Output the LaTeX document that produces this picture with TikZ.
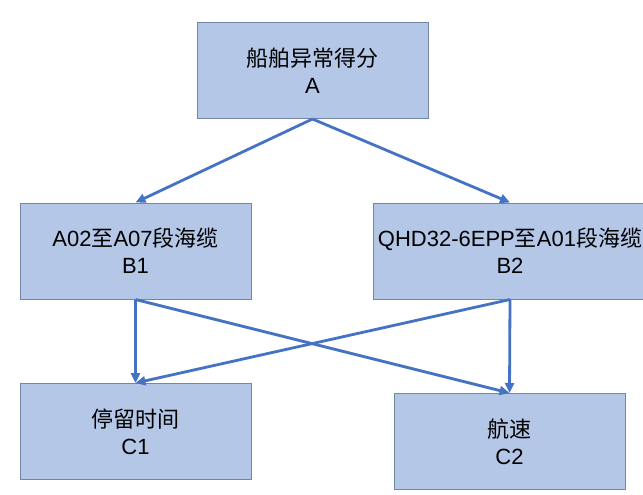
\documentclass[tikz,border=0pt]{standalone}
\usepackage{fontspec}
\setmainfont{Liberation Sans}
\newfontfamily\cjk{Noto Sans CJK SC}
\usetikzlibrary{arrows.meta}
\definecolor{boxfill}{HTML}{B4C7E7}
\definecolor{boxline}{HTML}{7486A8}
\definecolor{arrowc}{HTML}{4472C4}
\begin{document}
\begin{tikzpicture}[x=1pt,y=-1pt,
  box/.style={draw=boxline,line width=1pt,fill=boxfill,minimum width=#1,minimum height=96pt,
    align=center,inner sep=0pt,font=\fontsize{22}{27}\selectfont,text=black},
  box/.default=231pt,
  arr/.style={draw=arrowc,line width=2.8pt,-{Triangle[length=10pt,width=9pt]}}]
\useasboundingbox (0,0) rectangle (643,495);
\clip (0,0) rectangle (643,495);
\node[box] (A) at (312.5,70.5) {{\cjk 船舶异常得分}\\A};
\node[box] (B1) at (135.5,251) {A02{\cjk 至}A07{\cjk 段海缆}\\B1};
\node[box=274pt] (B2) at (510,251) {QHD32-6EPP{\cjk 至}A01{\cjk 段海缆}\\B2};
\node[box] (C1) at (135.5,431.5) {{\cjk 停留时间}\\C1};
\node[box] (C2) at (509.5,441.5) {{\cjk 航速}\\C2};
\draw[arr] (A.south) -- (B1.north);
\draw[arr] (A.south) -- (B2.north);
\draw[arr] (B1.south) -- (C1.north);
\draw[arr] (B1.south) -- (C2.north);
\draw[arr] (B2.south) -- (C2.north);
\draw[arr] (B2.south) -- (C1.north);
\end{tikzpicture}
\end{document}
